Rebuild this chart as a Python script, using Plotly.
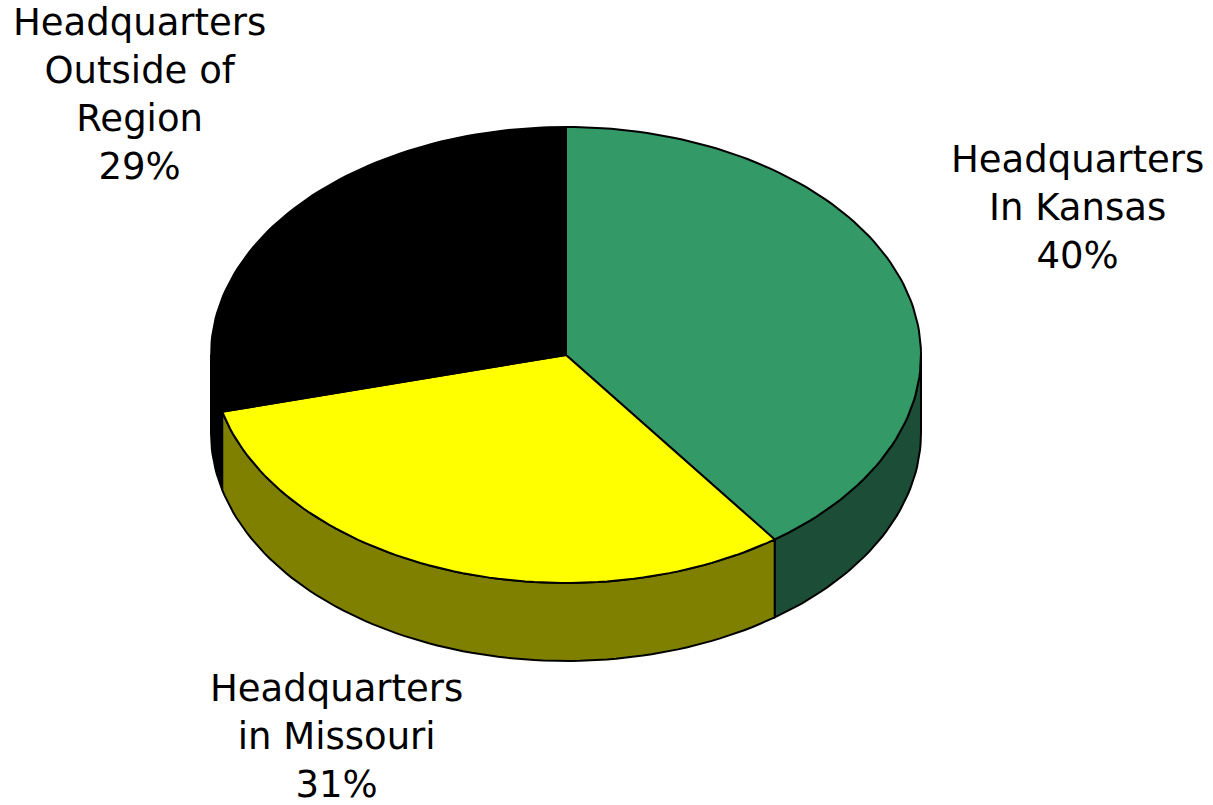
import numpy as np
import plotly.graph_objects as go

# ---- data ----
categories = ["Headquarters<br>In Kansas", "Headquarters<br>in Missouri", "Headquarters<br>Outside of<br>Region"]
values = [40, 31, 29]
top_colors = ["#339966", "#FFFF00", "#000000"]
side_colors = ["#1C4D36", "#808000", "#000000"]
label_pos = [(1077, 207), (336, 736), (139, 94)]

# ---- geometry (pixel space) ----
W, H = 1213, 805
cx, cy, rx, ry, depth = 566, 355, 355, 228, 78

def pts(t0, t1, dy=0, n=240):
    t = np.linspace(t0, t1, max(3, int(n * (t1 - t0) / (2 * np.pi)) + 3))
    return cx + rx * np.sin(t), cy - ry * np.cos(t) + dy

total = sum(values)
fr = np.cumsum([0] + values) / total
angles = 2 * np.pi * fr

fig = go.Figure()

# sides (front half visible: pi/2 .. 3pi/2)
for i in range(len(values)):
    a0, a1 = max(angles[i], np.pi / 2), min(angles[i + 1], 3 * np.pi / 2)
    if a1 <= a0:
        continue
    xt, yt = pts(a0, a1)
    xb, yb = pts(a0, a1, depth)
    xs = np.concatenate([xt, xb[::-1], xt[:1]])
    ys = np.concatenate([yt, yb[::-1], yt[:1]])
    fig.add_trace(go.Scatter(x=xs, y=ys, fill="toself", fillcolor=side_colors[i],
                             mode="lines", line=dict(color="black", width=2),
                             hoverinfo="skip", showlegend=False))

# tops
for i in range(len(values)):
    xa, ya = pts(angles[i], angles[i + 1])
    xs = np.concatenate([[cx], xa, [cx]])
    ys = np.concatenate([[cy], ya, [cy]])
    fig.add_trace(go.Scatter(x=xs, y=ys, fill="toself", fillcolor=top_colors[i],
                             mode="lines", line=dict(color="black", width=2),
                             hoverinfo="skip", showlegend=False))

for lab, v, (lx, ly) in zip(categories, values, label_pos):
    fig.add_annotation(x=lx, y=ly, xref="x", yref="y", text=f"{lab}<br>{v}%",
                       showarrow=False, align="center",
                       font=dict(family="Verdana, DejaVu Sans", size=37, color="black"))

fig.update_layout(width=W, height=H, margin=dict(l=0, r=0, t=0, b=0),
                  plot_bgcolor="white", paper_bgcolor="white",
                  xaxis=dict(range=[0, W], visible=False, fixedrange=True),
                  yaxis=dict(range=[H, 0], visible=False, fixedrange=True))

fig.write_html("out.html", config={"displayModeBar": False},
               post_script="document.body.style.margin='0';document.body.style.overflow='hidden';")
